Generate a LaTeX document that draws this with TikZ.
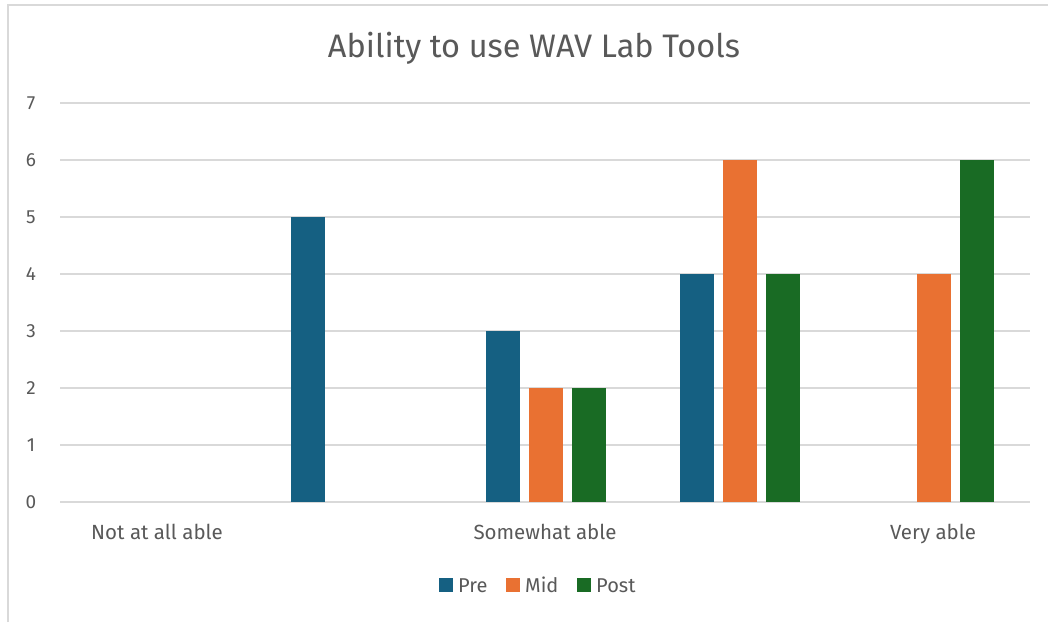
\documentclass[tikz,border=0pt]{standalone}
\usepackage{fontspec}
\setmainfont{Fira Sans}
\definecolor{pre}{HTML}{156082}
\definecolor{mid}{HTML}{E97132}
\definecolor{post}{HTML}{196B24}
\definecolor{grid}{HTML}{D9D9D9}
\definecolor{txt}{HTML}{595959}
\tikzset{
  gridline/.style={draw=grid, line width=1.5pt},
  bar/.style={inner sep=0pt, minimum width=34pt, anchor=south},
  ticklabel/.style={text=txt, font=\fontsize{19}{19}\selectfont},
  catlabel/.style={text=txt, font=\fontsize{20.5}{20.5}\selectfont, anchor=base},
  legendlabel/.style={text=txt, font=\fontsize{20}{20}\selectfont, anchor=base west, inner sep=0pt},
  legendbox/.style={inner sep=0pt, minimum size=14pt},
}
\begin{document}
\begin{tikzpicture}[x=1pt, y=-1pt]
	\useasboundingbox (0,0) rectangle (1048,622);
	\fill[white] (0,0) rectangle (1048,622);
	% frame
	\draw[gridline] (8,622) -- (8,5) -- (1048,5);
	% title
	\node (title)[text=txt, font=\fontsize{32.5}{32.5}\selectfont] at (534,48) {Ability to use WAV Lab Tools};
	% grid and y labels
	\foreach \v in {0,...,7} {
		\draw[gridline] (60,502-57*\v) -- (1030,502-57*\v);
		\node (y\v)[ticklabel] at (31,502-57*\v) {\v};
	}
	% bars
	\begin{scope}
		\foreach \n/\x/\v/\c in {a/308/5/pre, b/503/3/pre, c/697/4/pre,
			d/546/2/mid, e/740/6/mid, f/934/4/mid,
			g/589/2/post, h/783/4/post, i/977/6/post} {
			\node (bar\n)[bar, fill=\c, minimum height=57pt*\v] at (\x,502) {};
		}
	\end{scope}
	% categories
	\node (cat1)[catlabel] at (157,539) {Not at all able};
	\node (cat3)[catlabel] at (545,539) {Somewhat able};
	\node (cat5)[catlabel] at (933,539) {Very able};
	% legend
	\node (kpre)[legendbox, fill=pre] at (446,585) {};
	\node (lpre)[legendlabel] at (458,592) {Pre};
	\node (kmid)[legendbox, fill=mid] at (513,585) {};
	\node (lmid)[legendlabel] at (525,592) {Mid};
	\node (kpost)[legendbox, fill=post] at (584,585) {};
	\node (lpost)[legendlabel] at (596,592) {Post};
\end{tikzpicture}
\end{document}
